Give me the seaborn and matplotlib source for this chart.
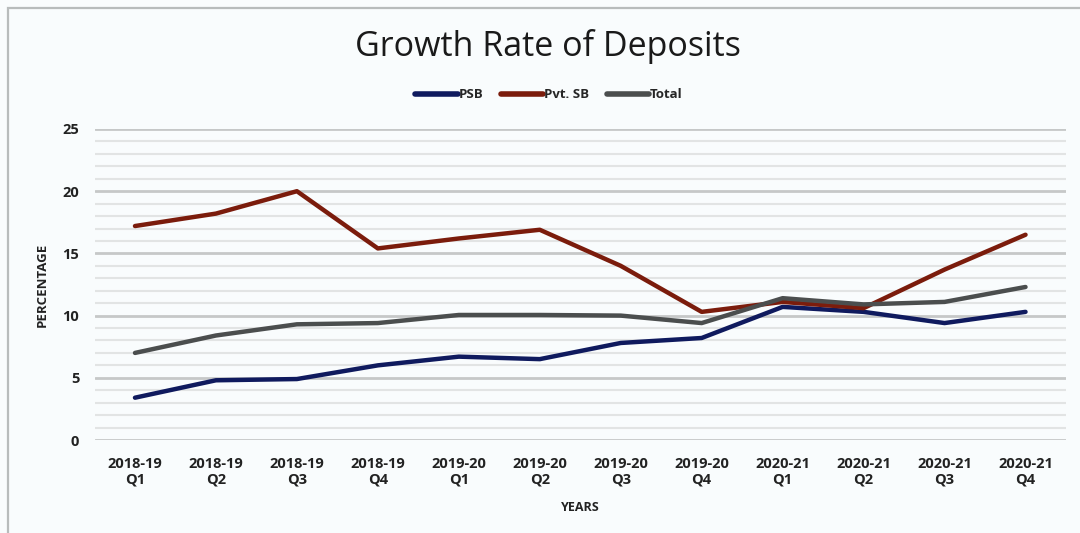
import matplotlib
matplotlib.use("Agg")
import matplotlib.pyplot as plt
from matplotlib.ticker import MultipleLocator
from matplotlib.patches import Rectangle
import seaborn as sns
import pandas as pd

quarters = ["2018-19\nQ1", "2018-19\nQ2", "2018-19\nQ3", "2018-19\nQ4",
            "2019-20\nQ1", "2019-20\nQ2", "2019-20\nQ3", "2019-20\nQ4",
            "2020-21\nQ1", "2020-21\nQ2", "2020-21\nQ3", "2020-21\nQ4"]
psb = [3.4, 4.8, 4.9, 6.0, 6.7, 6.5, 7.8, 8.2, 10.7, 10.3, 9.4, 10.3]
pvt_sb = [17.2, 18.2, 20.0, 15.4, 16.2, 16.9, 14.0, 10.3, 11.1, 10.6, 13.7, 16.5]
total = [7.0, 8.4, 9.3, 9.4, 10.05, 10.05, 10.0, 9.4, 11.4, 10.9, 11.1, 12.3]

series_names = ["PSB", "Pvt. SB", "Total"]
series_colors = ["#0f1a5e", "#7b1c0c", "#4b4e4e"]

df = pd.DataFrame({
    "quarter": quarters * 3,
    "pos": list(range(len(quarters))) * 3,
    "value": psb + pvt_sb + total,
    "series": [s for s in series_names for _ in quarters],
})

sns.set_theme(style="white")
plt.rcParams["font.family"] = ["Open Sans", "DejaVu Sans"]

bg = "#f9fcfd"
fig = plt.figure(figsize=(10.8, 5.33), dpi=100, facecolor=bg)
# outer chart frame
fig.patches.append(Rectangle((8 / 1080, -0.1), 1.2, 1 - 8 / 533 + 0.1,
                             transform=fig.transFigure, fill=False,
                             edgecolor="#b8bcbc", linewidth=1.6, zorder=0))

ax = fig.add_axes([94.5 / 1080, 93 / 533, (1066 - 94.5) / 1080, (440 - 129) / 533])
ax.set_facecolor(bg)

sns.lineplot(data=df, x="pos", y="value", hue="series", hue_order=series_names,
             palette=series_colors, linewidth=3.2, ax=ax, legend=False,
             sort=False)

ax.set_xlim(-0.5, len(quarters) - 0.5)
ax.set_ylim(0, 25)
ax.yaxis.set_major_locator(MultipleLocator(5))
ax.yaxis.set_minor_locator(MultipleLocator(1))
ax.set_xticks(range(len(quarters)))
ax.set_xticklabels(quarters, fontsize=10.5, fontweight="bold", color="#222222",
                   linespacing=1.2)
ax.tick_params(axis="y", which="major", labelsize=10.5, colors="#222222", pad=11, length=0)
ax.tick_params(axis="x", which="major", pad=12, length=0)
ax.tick_params(which="minor", length=0)
for lbl in ax.get_yticklabels():
    lbl.set_fontweight("bold")

ax.grid(True, axis="y", which="major", color="#c6c8c8", linewidth=2.0, zorder=0)
ax.grid(True, axis="y", which="minor", color="#e2e4e4", linewidth=1.5, zorder=0)
ax.grid(False, axis="x")
ax.set_axisbelow(True)
for s in ax.spines.values():
    s.set_visible(False)

ax.set_xlabel("YEARS", fontsize=9, fontweight="bold", color="#222222", labelpad=10)
ax.set_ylabel("PERCENTAGE", fontsize=9.5, fontweight="bold", color="#222222", labelpad=10)

fig.text(548 / 1080, 1 - 46 / 533, "Growth Rate of Deposits", ha="center", va="center",
         fontsize=24.5, color="#1a1a1a")

# legend row
handles = [plt.Line2D([], [], color=c, linewidth=4) for c in series_colors]
fig.legend(handles, series_names, loc="center", bbox_to_anchor=(549 / 1080, 1 - 95 / 533),
           ncol=3, frameon=False, handlelength=3.2, handletextpad=0.1,
           columnspacing=1.3, prop={"weight": "bold", "size": 9.5})

fig.savefig("out.png", dpi=100, facecolor=bg)
